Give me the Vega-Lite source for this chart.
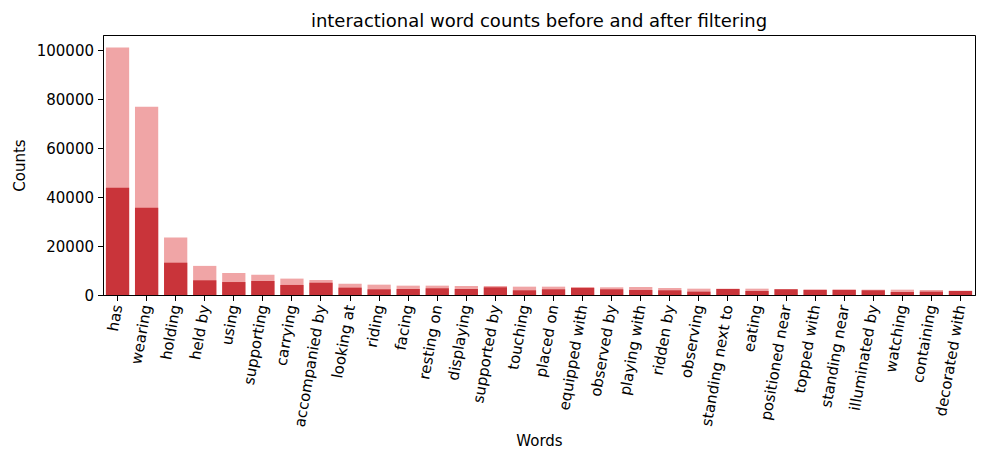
{
  "$schema": "https://vega.github.io/schema/vega-lite/v6.json",
  "autosize": "none",
  "width": 872,
  "height": 260,
  "padding": {"left": 103, "top": 35, "right": 15, "bottom": 173},
  "background": "white",
  "title": {"text": "interactional word counts before and after filtering", "fontSize": 18, "fontWeight": "normal", "font": "DejaVu Sans", "color": "black", "offset": 4, "baseline": "bottom", "frame": "group", "dy": 18},
  "config": {
    "font": "DejaVu Sans",
    "view": {"stroke": "black", "strokeWidth": 1},
    "axis": {"domainColor": "black", "tickColor": "black", "labelColor": "black", "titleColor": "black", "labelFontSize": 15, "titleFontSize": 15, "titleFontWeight": "normal", "grid": false, "tickSize": 5.5, "labelPadding": 4}
  },
  "data": {"values": [
    {"word": "has", "before": 101200, "after": 43800},
    {"word": "wearing", "before": 76950, "after": 35700},
    {"word": "holding", "before": 23450, "after": 13200},
    {"word": "held by", "before": 11900, "after": 6000},
    {"word": "using", "before": 9000, "after": 5300},
    {"word": "supporting", "before": 8300, "after": 5700},
    {"word": "carrying", "before": 6700, "after": 4100},
    {"word": "accompanied by", "before": 6150, "after": 5050},
    {"word": "looking at", "before": 4600, "after": 3000},
    {"word": "riding", "before": 4230, "after": 2320},
    {"word": "facing", "before": 3820, "after": 2450},
    {"word": "resting on", "before": 3820, "after": 2730},
    {"word": "displaying", "before": 3680, "after": 2450},
    {"word": "supported by", "before": 3680, "after": 3140},
    {"word": "touching", "before": 3410, "after": 1910},
    {"word": "placed on", "before": 3410, "after": 2320},
    {"word": "equipped with", "before": 3270, "after": 2860},
    {"word": "observed by", "before": 3140, "after": 2320},
    {"word": "playing with", "before": 3270, "after": 2050},
    {"word": "ridden by", "before": 2860, "after": 1910},
    {"word": "observing", "before": 2590, "after": 1360},
    {"word": "standing next to", "before": 2590, "after": 2450},
    {"word": "eating", "before": 2590, "after": 1640},
    {"word": "positioned near", "before": 2450, "after": 2320},
    {"word": "topped with", "before": 2320, "after": 2050},
    {"word": "standing near", "before": 2320, "after": 2050},
    {"word": "illuminated by", "before": 2180, "after": 1910},
    {"word": "watching", "before": 2180, "after": 1230},
    {"word": "containing", "before": 2050, "after": 1360},
    {"word": "decorated with", "before": 1770, "after": 1640}
  ]},
  "encoding": {
    "x": {"field": "word", "type": "nominal", "sort": null,
      "scale": {"paddingInner": 0.2, "paddingOuter": 0.1},
      "axis": {"title": "Words", "labelAngle": -80, "labelAlign": "right", "labelBaseline": "middle", "titlePadding": 6}}
  },
  "layer": [
    {
      "mark": {"type": "bar", "color": "#f0a5a6"},
      "encoding": {
        "y": {"field": "before", "type": "quantitative", "scale": {"domain": [0, 106260], "nice": false},
          "axis": {"title": "Counts", "values": [0, 20000, 40000, 60000, 80000, 100000], "format": "d", "titlePadding": 9}}
      }
    },
    {
      "mark": {"type": "bar", "color": "#c9343a"},
      "encoding": {
        "y": {"field": "after", "type": "quantitative"}
      }
    }
  ]
}
